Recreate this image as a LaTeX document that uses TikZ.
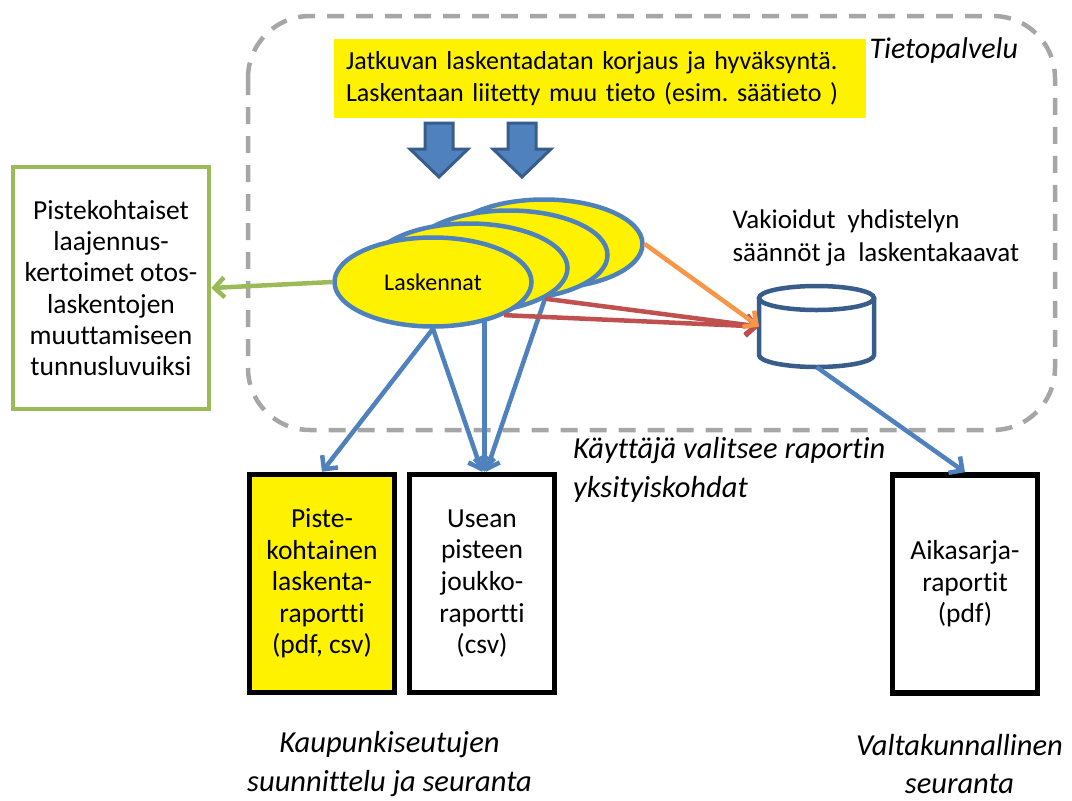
\documentclass[tikz,border=0pt]{standalone}
\usepackage{fontspec}
\setmainfont{Carlito}[Ligatures=NoCommon]
\usetikzlibrary{shapes.geometric,arrows.meta,calc}

\definecolor{lblue}{RGB}{79,129,189}
\definecolor{dblue}{RGB}{56,93,138}
\definecolor{lgreen}{RGB}{155,187,89}
\definecolor{lorange}{RGB}{247,150,70}
\definecolor{lred}{RGB}{192,80,77}
\definecolor{lgray}{RGB}{166,166,166}
\frenchspacing

\begin{document}
\begin{tikzpicture}
  [
    x=1pt, y=-1pt,
    font=\fontsize{26}{31.5}\selectfont,
    ell/.style =
      {ellipse, draw=lblue, line width=4.5pt, fill=yellow,
       minimum width=197pt, minimum height=89pt, inner sep=0pt},
    rep/.style =
      {draw, line width=5.5pt, minimum width=145pt, minimum height=218pt,
       align=center, font=\fontsize{27.5}{31.6}\selectfont},
    capt/.style = {font=\fontsize{30.5}{38.5}\selectfont\itshape, align=center,
       inner sep=1pt},
    con/.style = {line width=4.5pt, -{Straight Barb[length=10pt,width=20pt]}},
    blk/.style = {draw=dblue, fill=lblue, line width=3pt, line join=miter},
    cyl/.style = {draw=dblue, line width=4.5pt}
  ]
  \useasboundingbox (0,0) rectangle (1072,801);

  % palvelun raja
  \draw [lgray, line width=4.5pt, dash pattern=on 17pt off 12pt,
         rounded corners=62pt] (248,16) rectangle (1055,430);
  \node [font=\fontsize{30}{34}\selectfont\itshape, anchor=west]
        (tieto) at (866,50) {Tietopalvelu};

  \node [fill=yellow, minimum width=532pt, minimum height=79pt,
         text width=508pt, inner sep=12pt, align=left]
        (korj) at (600,78.5)
        {Jatkuvan laskentadatan korjaus ja hyväksyntä.\\
         Laskentaan liitetty muu tieto (esim. säätieto )};

  \coordinate (d1) at (439,123);
  \coordinate (d2) at (522,123);
  \draw [blk] (d1) ++(-14,0) -- ++(28,0) -- ++(0,26) -- ++(15,0)
              -- ++(-29,28) -- ++(-29,-28) -- ++(15,0) -- cycle;
  \draw [blk] (d2) ++(-14,0) -- ++(28,0) -- ++(0,26) -- ++(15,0)
              -- ++(-29,28) -- ++(-29,-28) -- ++(15,0) -- cycle;

  % laskennat
  \node [ell] (lask4) at (544,244) {};
  \node [ell] (lask3) at (509,255) {};
  \node [ell] (lask2) at (469,268) {};
  \node [ell] (lask1) at (433,282) {\fontsize{24}{28}\selectfont Laskennat};

  % kanta
  \node [anchor=west, align=left, font=\fontsize{27}{33}\selectfont]
        (saan) at (729,238)
        {Vakioidut\ \ yhdistelyn\\säännöt ja\ \ laskentakaavat};
  \node [minimum width=115pt, minimum height=81pt, inner sep=0pt,
         outer sep=0pt] (kanta) at (816.5,326.5) {};
  \draw [cyl] ($(kanta.north)+(0,12)$) ellipse [x radius=57.5pt, y radius=12pt];
  \draw [cyl] ($(kanta.north west)+(0,12)$) -- ($(kanta.south west)+(0,-12)$)
              arc [start angle=180, end angle=360, x radius=57.5pt, y radius=12pt]
              -- ($(kanta.north east)+(0,12)$);

  \node [draw=lgreen, line width=4.5pt, minimum width=196pt, minimum height=242pt,
         align=center, font=\fontsize{27.5}{31.3}\selectfont] (gbox) at (111,288)
        {Pistekohtaiset\\laajennus-\\kertoimet otos-\\laskentojen\\muuttamiseen\\tunnusluvuiksi};

  % raportit
  \node [rep, fill=yellow] (pbox) at (322,583.5)
        {Piste-\\kohtainen\\laskenta-\\raportti\\(pdf, csv)};
  \node [rep] (ubox) at (482,583.5)
        {Usean\\pisteen\\joukko-\\raportti\\(csv)};
  \node [rep] (abox) at (965,584)
        {Aikasarja-\\raportit\\(pdf)};

  \node [capt, anchor=west, align=left] (valit) at (572,470)
        {Käyttäjä valitsee raportin\\yksityiskohdat};
  \node [capt] (kaup) at (389.5,764) {Kaupunkiseutujen\\suunnittelu ja seuranta};
  \node [capt] (valt) at (959.5,764) {Valtakunnallinen\\seuranta};

  % nuolet
  \draw [con, lgreen] (lask1.west) -- (gbox.east);
  \draw [con, lblue] (lask1.south) -- (pbox.north);
  \draw [con, lblue] (lask1.south) -- (ubox.north);
  \draw [con, lblue] (lask1.-38) -- (lask1.-38 |- ubox.north);
  \draw [con, lblue] (lask2.-22) -- ([xshift=4pt]ubox.north);
  \draw [con, lred] (lask2.-22) -- (kanta.west);
  \draw [con, lred] (lask1.-25) -- (kanta.west);
  \draw [con, lorange] (lask4.east) -- (kanta.west);
  \draw [con, lblue] (kanta.south) -- (abox.north);

\end{tikzpicture}
\end{document}
